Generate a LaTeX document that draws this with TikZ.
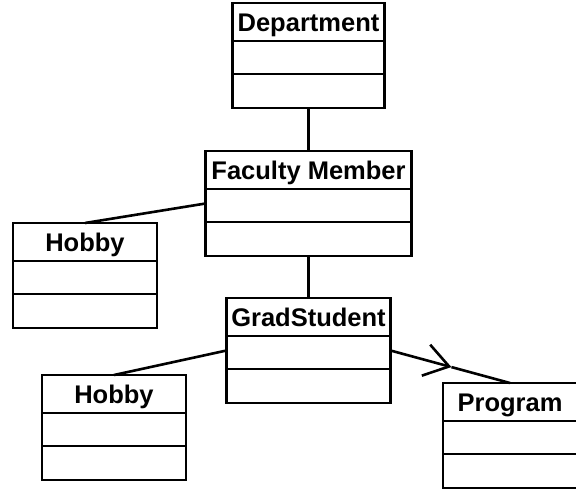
\documentclass[tikz,border=0pt]{standalone}
\usepackage{fontspec}
\setmainfont{Liberation Sans}
\usetikzlibrary{calc, arrows.meta}

\tikzset{
	classframe/.style = {draw, line width = 2.6pt, inner sep = 0pt, outer sep = 0pt, minimum height = 105pt},
	classtitle/.style = {anchor = base, inner sep = 0pt, font = \fontsize{25.5}{30}\selectfont\bfseries},
	link/.style = {line width = 2.6pt},
}

% class box: name, centre x, top y, width, title
\newcommand{\umlclass}[5]{%
	\node [classframe, minimum width = #4pt] (#1) at (#2, #3 + 52.5) {};
	\draw [line width = 2.6pt] (#1.north west) ++(0,38) -- ++(#4,0);
	\draw [line width = 2.6pt] (#1.north west) ++(0,71) -- ++(#4,0);
	\node [classtitle] at ($(#1.north) + (0,28.5)$) {#5};
}

\begin{document}
\begin{tikzpicture}[x = 1pt, y = -1pt]
			\useasboundingbox (0,0) rectangle (576,491);
			
			\umlclass{dept}{308.5}{3}{152}{Department}
			\umlclass{faculty}{308.5}{151}{206}{Faculty Member}
			\umlclass{hobbyA}{85}{223}{144}{Hobby}
			\umlclass{grad}{308.5}{298}{164}{GradStudent}
			\umlclass{hobbyB}{114}{375}{144}{Hobby}
			\umlclass{prog}{510}{383}{134}{Program}
			
			\coordinate (navtip) at ($(grad.east)!0.51!(prog.north)$);
			
			\begin{scope}[link]
				\draw (dept.south) -- (faculty.north);
				\draw (faculty.west) -- (hobbyA.north);
				\draw (faculty.south) -- (grad.north);
				\draw (grad.west) -- (hobbyB.north);
				\draw [-{Straight Barb[length = 24pt, width = 32pt]}] (grad.east) -- (navtip);
				\draw (navtip) -- (prog.north);
			\end{scope}
		\end{tikzpicture}
\end{document}
